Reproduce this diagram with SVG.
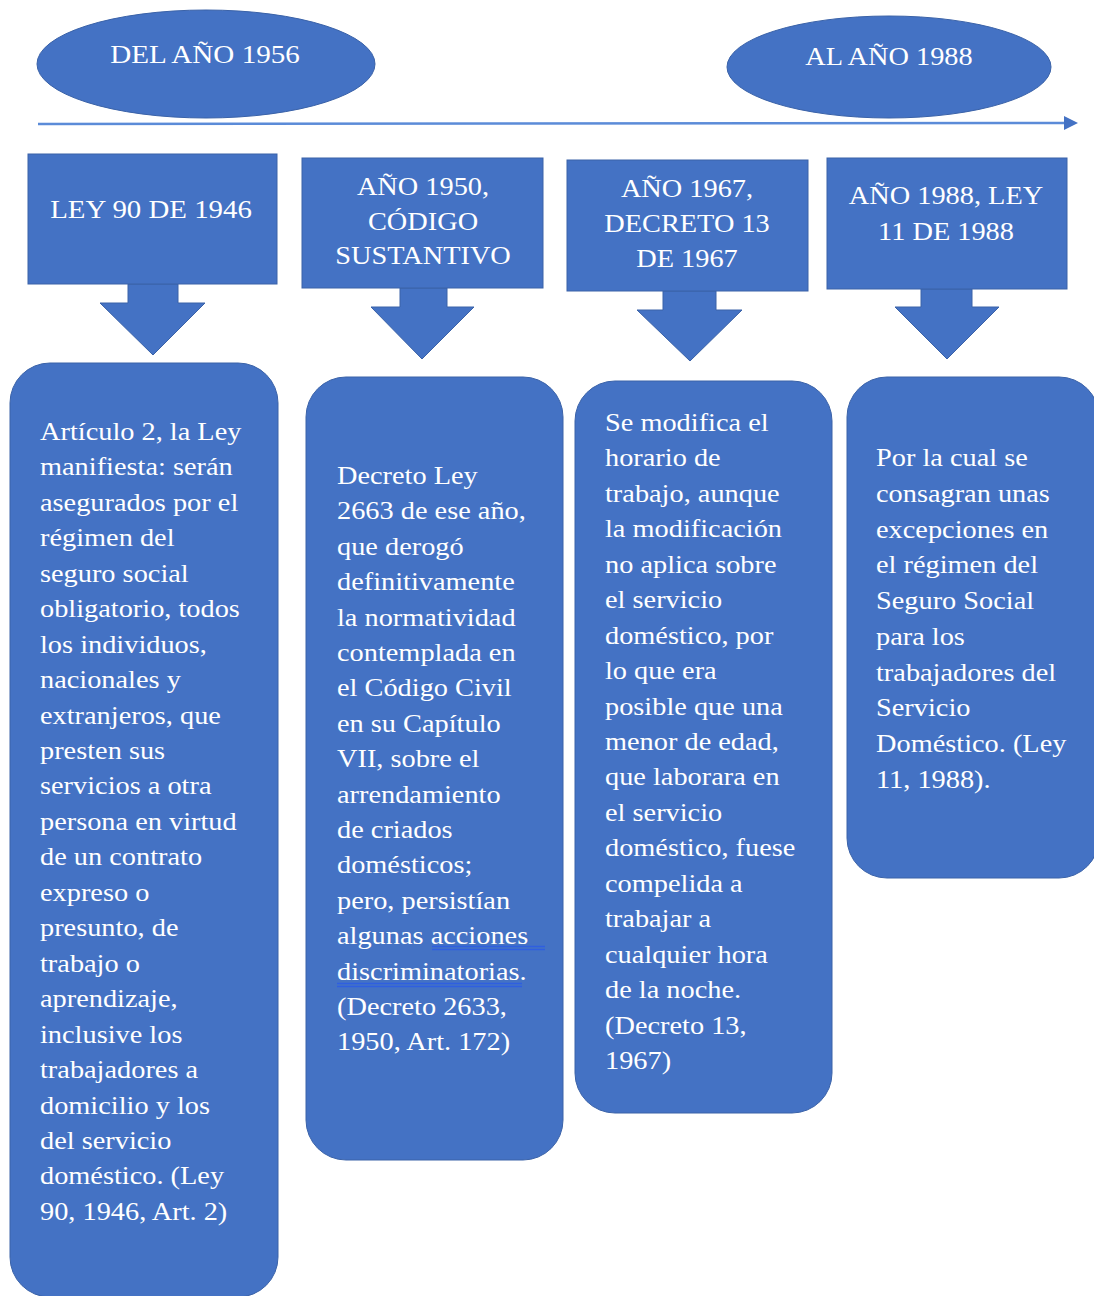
<svg xmlns="http://www.w3.org/2000/svg" width="1094" height="1296" viewBox="0 0 1094 1296" font-family="'Liberation Serif', 'Times New Roman', Tinos, 'DejaVu Serif', serif">
<style>
.shape{fill:#4472C4;stroke:#3A62A8;stroke-width:1}
.t{font-family:'Liberation Serif','Times New Roman',Tinos,'DejaVu Serif',serif;font-size:26px;fill:#FFFFFF}
.c{text-anchor:middle}
.ul{stroke:#2F5FE0;stroke-width:1.3;fill:none}
</style>
<rect width="1094" height="1296" fill="#FFFFFF"/>
<g id="connectors">
<line x1="38" y1="124" x2="1066" y2="123" stroke="#5B8BD8" stroke-width="2.5"/>
<polygon points="1064,116 1078,123 1064,130" fill="#4472C4"/>
<polygon class="shape" points="128,284 178,284 178,303 205,303 153,355 100,303 128,303"/>
<polygon class="shape" points="400,288 447,288 447,307 474,307 422,359 371,307 400,307"/>
<polygon class="shape" points="663,291 716,291 716,310 742,310 690,361 637,310 663,310"/>
<polygon class="shape" points="921,289 972,289 972,307 999,307 947,359 895,307 921,307"/>
</g>
<g id="start">
<ellipse class="shape" cx="206" cy="64" rx="169" ry="54"/>
<text class="t c" transform="translate(205,0) scale(1.12,1)" x="0" y="63">DEL AÑO 1956</text>
</g>
<g id="end">
<ellipse class="shape" cx="889" cy="67" rx="162" ry="51"/>
<text class="t c" transform="translate(889,0) scale(1.09,1)" x="0" y="65">AL AÑO 1988</text>
</g>
<g id="h1">
<rect class="shape" x="28" y="154" width="249" height="130"/>
<text class="t c" transform="translate(151,0) scale(1.11,1)" x="0" y="218">LEY 90 DE 1946</text>
</g>
<g id="h2">
<rect class="shape" x="302" y="158" width="241" height="130"/>
<g class="t c" transform="translate(423,0) scale(1.09,1)">
<text x="0" y="195">AÑO 1950,</text>
<text x="0" y="230">CÓDIGO</text>
<text x="0" y="264">SUSTANTIVO</text>
</g>
</g>
<g id="h3">
<rect class="shape" x="567" y="160" width="241" height="131"/>
<g class="t c" transform="translate(687,0) scale(1.09,1)">
<text x="0" y="197">AÑO 1967,</text>
<text x="0" y="232">DECRETO 13</text>
<text x="0" y="267">DE 1967</text>
</g>
</g>
<g id="h4">
<rect class="shape" x="827" y="158" width="240" height="131"/>
<g class="t c" transform="translate(946,0) scale(1.09,1)">
<text x="0" y="204">AÑO 1988, LEY</text>
<text x="0" y="240">11 DE 1988</text>
</g>
</g>
<g id="b1">
<rect class="shape" x="10" y="363" width="268" height="934" rx="40" ry="40"/>
<g class="t" transform="translate(40,0) scale(1.09,1)">
<text x="0" y="440">Artículo 2, la Ley</text>
<text x="0" y="475.5">manifiesta: serán</text>
<text x="0" y="510.9">asegurados por el</text>
<text x="0" y="546.4">régimen del</text>
<text x="0" y="581.8">seguro social</text>
<text x="0" y="617.3">obligatorio, todos</text>
<text x="0" y="652.7">los individuos,</text>
<text x="0" y="688.2">nacionales y</text>
<text x="0" y="723.6">extranjeros, que</text>
<text x="0" y="759.1">presten sus</text>
<text x="0" y="794.5">servicios a otra</text>
<text x="0" y="830">persona en virtud</text>
<text x="0" y="865.4">de un contrato</text>
<text x="0" y="900.9">expreso o</text>
<text x="0" y="936.3">presunto, de</text>
<text x="0" y="971.8">trabajo o</text>
<text x="0" y="1007.2">aprendizaje,</text>
<text x="0" y="1042.7">inclusive los</text>
<text x="0" y="1078.1">trabajadores a</text>
<text x="0" y="1113.6">domicilio y los</text>
<text x="0" y="1149">del servicio</text>
<text x="0" y="1184.5">doméstico. (Ley</text>
<text x="0" y="1220">90, 1946, Art. 2)</text>
</g>
</g>
<g id="b2">
<rect class="shape" x="306" y="377" width="257" height="783" rx="40" ry="40"/>
<g class="t" transform="translate(337,0) scale(1.09,1)">
<text x="0" y="484">Decreto Ley</text>
<text x="0" y="519.4">2663 de ese año,</text>
<text x="0" y="554.8">que derogó</text>
<text x="0" y="590.2">definitivamente</text>
<text x="0" y="625.6">la normatividad</text>
<text x="0" y="661">contemplada en</text>
<text x="0" y="696.4">el Código Civil</text>
<text x="0" y="731.8">en su Capítulo</text>
<text x="0" y="767.2">VII, sobre el</text>
<text x="0" y="802.6">arrendamiento</text>
<text x="0" y="838">de criados</text>
<text x="0" y="873.4">domésticos;</text>
<text x="0" y="908.8">pero, persistían</text>
<text x="0" y="944.2">algunas acciones</text>
<text x="0" y="979.6">discriminatorias.</text>
<text x="0" y="1015">(Decreto 2633,</text>
<text x="0" y="1050.4">1950, Art. 172)</text>
</g>
<line class="ul" x1="432" y1="946.5" x2="545" y2="946.5"/>
<line class="ul" x1="432" y1="949.5" x2="545" y2="949.5"/>
<line class="ul" x1="337" y1="983.5" x2="522" y2="983.5"/>
<line class="ul" x1="337" y1="986.5" x2="522" y2="986.5"/>
</g>
<g id="b3">
<rect class="shape" x="575" y="381" width="257" height="732" rx="40" ry="40"/>
<g class="t" transform="translate(605,0) scale(1.09,1)">
<text x="0" y="431">Se modifica el</text>
<text x="0" y="466.4">horario de</text>
<text x="0" y="501.9">trabajo, aunque</text>
<text x="0" y="537.3">la modificación</text>
<text x="0" y="572.8">no aplica sobre</text>
<text x="0" y="608.2">el servicio</text>
<text x="0" y="643.7">doméstico, por</text>
<text x="0" y="679.1">lo que era</text>
<text x="0" y="714.6">posible que una</text>
<text x="0" y="750">menor de edad,</text>
<text x="0" y="785.5">que laborara en</text>
<text x="0" y="820.9">el servicio</text>
<text x="0" y="856.4">doméstico, fuese</text>
<text x="0" y="891.8">compelida a</text>
<text x="0" y="927.3">trabajar a</text>
<text x="0" y="962.7">cualquier hora</text>
<text x="0" y="998.2">de la noche.</text>
<text x="0" y="1033.6">(Decreto 13,</text>
<text x="0" y="1069">1967)</text>
</g>
</g>
<g id="b4">
<rect class="shape" x="847" y="377" width="252" height="501" rx="40" ry="40"/>
<g class="t" transform="translate(876,0) scale(1.09,1)">
<text x="0" y="466">Por la cual se</text>
<text x="0" y="501.8">consagran unas</text>
<text x="0" y="537.6">excepciones en</text>
<text x="0" y="573.3">el régimen del</text>
<text x="0" y="609.1">Seguro Social</text>
<text x="0" y="644.9">para los</text>
<text x="0" y="680.7">trabajadores del</text>
<text x="0" y="716.4">Servicio</text>
<text x="0" y="752.2">Doméstico. (Ley</text>
<text x="0" y="788">11, 1988).</text>
</g>
</g>
</svg>
